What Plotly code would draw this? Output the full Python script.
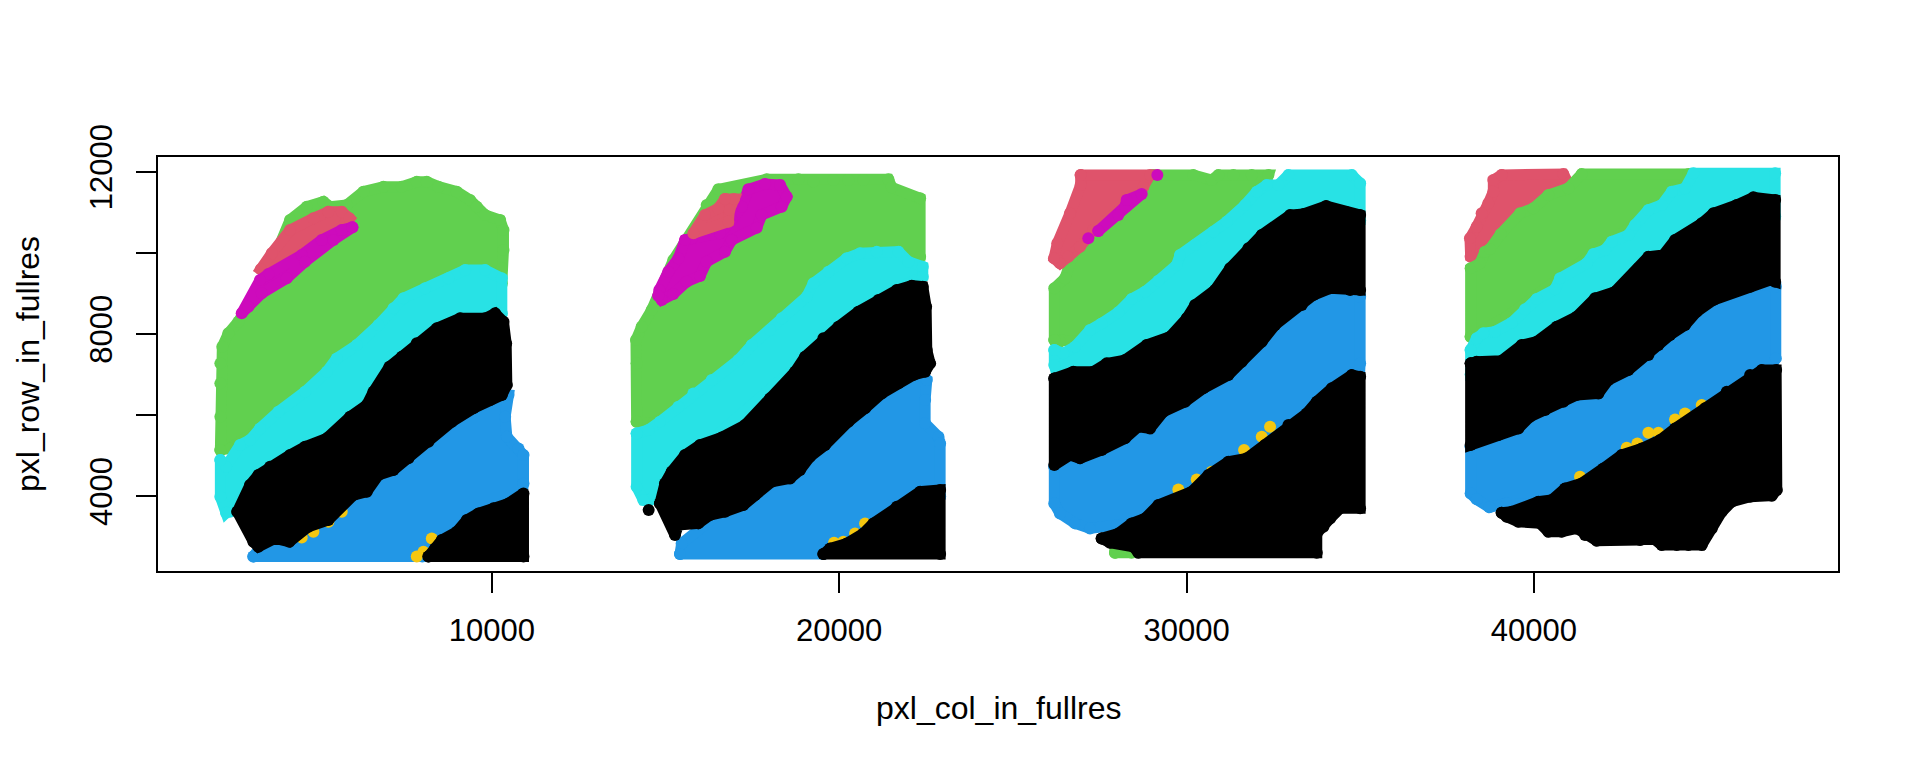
import plotly.graph_objects as go

BLACK, RED, GREEN, BLUE, CYAN, MAGENTA, YELLOW = "#000000", "#DF536B", "#61D04F", "#2297E6", "#28E2E5", "#CD0BBC", "#F5C710"

x_tick_values = [10000, 20000, 30000, 40000]
y_tick_values = [4000, 6000, 8000, 10000, 12000]
y_tick_labels = ["4000", "", "8000", "", "12000"]

# ---- section 1 (boundary spots: pxl_col_in_fullres, pxl_row_in_fullres)
s1_green_col = [2187,2187,2187,2187,2244,2417,2705,3185,3713,4193,4673,5153,5345,5825,6305,6881,7409,7841,8129,8465,8993,9377,9569,9809,10241,10337,10337,10289,10289,8033,5153,3233,2465]
s1_green_row = [5137,5959,6781,7274,7685,8014,8302,9000,9822,10809,11138,11261,11138,11179,11508,11631,11631,11754,11754,11631,11508,11302,11138,10932,10809,10562,10069,9617,9247,8425,6781,5630,5178]
s1_cyan_col = [2187,2350,2753,3041,3329,3857,4625,5249,5537,6113,6737,7169,7457,8081,8753,9233,9809,10289,10289,8993,6113,3233,2465,2350,2187]
s1_cyan_row = [4890,4726,5260,5384,5671,6082,6575,7069,7397,7726,8219,8631,8877,9124,9370,9576,9576,9370,8507,7603,5548,4315,3616,3591,3986]
s1_red_col = [5297,5681,5902,5153,3617,3348,3665,4193,4865]
s1_red_row = [11014,11014,10850,10151,9452,9592,9987,10562,10850]
s1_magenta_col = [5988,5681,5105,4529,3569,3329,2801,2993,3377,4097,4625,5441]
s1_magenta_row = [10628,10562,10316,9946,9477,9329,8507,8671,9000,9370,9781,10316]
s1_blue_col = [3137,3425,6113,9953,10481,10385,10433,10769,10913,10913,10817,8993,8000]
s1_blue_row = [2515,2835,4315,6534,6493,5959,5466,5178,5014,4315,3700,2900,2515]
s1_yellow_col = [5681,5297,4529,4865,8033,8273,7841]
s1_yellow_row = [3616,3370,2980,3123,2630,2959,2515]
s1_black_a_col = [2676,3041,3281,3617,4193,4625,5249,5921,6401,6593,7054,7409,7841,8417,9089,9809,10097,10337,10414,10433,10289,9953,9473,8849,8177,7601,7169,6737,6401,6017,5681,5297,4721,4174,3761,3281,3137]
s1_black_a_row = [3616,4274,4521,4726,5014,5219,5425,5959,6247,6575,7192,7439,7768,8137,8384,8384,8507,8302,7767,6740,6493,6370,6165,5836,5343,4932,4644,4521,4110,4027,3781,3411,3246,2877,2959,2753,2877]
s1_black_b_col = [8177,8369,8561,8993,9281,9617,10049,10481,10913,10913]
s1_black_b_row = [2515,2712,2918,3123,3411,3575,3699,3822,4068,2515]

# ---- section 2
s2_green_col = [14170,14170,14151,14314,14602,15226,16186,16522,17914,18826,19258,19834,20266,20698,21418,21514,22330,22330,20122,17242,14650]
s2_green_row = [5835,7274,7849,8178,8589,9822,11179,11565,11812,11812,11754,11795,11795,11795,11812,11614,11343,9905,9247,7192,5795]
s2_cyan_col = [14170,14506,14842,15370,15802,16330,17098,17482,18010,18346,19066,19258,19690,20218,20602,21082,21706,21994,22407,22407,21370,18202,15322,14554,14362,14170]
s2_cyan_row = [5548,5630,5836,6206,6534,6863,7356,7726,8096,8384,8918,9247,9535,9863,9987,10028,10028,9781,9658,9411,8999,6781,4644,3904,3904,4233]
s2_magenta_col = [14794,14890,15226,15610,15994,16186,16714,16906,17626,17770,18346,18490,18298,17866,17386,17194,16906,16570,15754,15562,15370,15082,14823]
s2_magenta_row = [8943,8836,8984,9288,9428,9781,10028,10316,10620,10932,11138,11384,11672,11697,11565,11138,10809,10480,10357,10316,9864,9535,9083]
s2_red_col = [16714,16973,16839,16810,15802,16138,16522]
s2_red_row = [11327,11327,11055,10768,10480,10932,11097]
s2_blue_col = [15418,15466,18202,20266,22138,22522,22474,22474,22858,22906,22906,20122,19546]
s2_blue_row = [2572,2835,4700,6100,7028,6863,6370,5795,5466,5301,4000,2800,2572]
s2_yellow_col = [19853,20122,20458,20746]
s2_yellow_row = [2852,2876,3082,3329]
s2_black_a_col = [14842,14986,15178,15562,15994,16618,17290,18010,18730,19018,19546,19978,20554,21130,21658,22090,22407,22503,22522,22618,22474,22138,21706,21226,20746,20266,19594,19162,18874,18586,18058,17578,17242,16714,16282,15946,15370,15274]
s2_black_a_row = [3822,4315,4603,5014,5260,5449,5753,6411,7069,7439,7891,8178,8548,8836,9083,9190,9165,8672,7603,7274,7069,6987,6781,6534,6165,5836,5260,4973,4644,4438,4356,4027,3781,3616,3534,3329,3288,3041]
s2_black_b_col = [19546,19738,20218,20698,20986,21658,22330,22906,22906]
s2_black_b_row = [2572,2712,2835,3082,3329,3740,4110,4151,2572]
s2_black_spot_col = [14516]
s2_black_spot_row = [3657]

# ---- section 3
s3_green_col = [26193,26193,26500,26692,27892,29044,30196,30724,30916,31348,31876,32356,32116,30292,27412,26356]
s3_green_row = [7850,9124,9370,9864,11302,11919,11919,11795,11919,11919,11919,11919,11302,10069,7800,7809]
s3_green_low_col = [27940,28420,28276,27940]
s3_green_low_row = [2605,2605,2712,2753]
s3_cyan_col = [26193,26452,26788,27220,27556,28036,28420,28804,29188,29716,29812,30244,30772,31156,31684,32020,32308,32644,32932,34756,34996,34996,33172,30292,27892,26356,26193]
s3_cyan_row = [7603,7521,7685,8096,8260,8532,8861,9042,9313,9699,9946,10192,10521,10768,11179,11507,11672,11672,11919,11919,11713,10800,10500,8400,6900,6700,7233]
s3_red_col = [26951,28948,28756,28180,27316,26932,26596,26356,26183,26279,26644,26951]
s3_red_row = [11919,11919,11631,11138,10562,10151,9905,9740,9864,10234,10973,11672]
s3_magenta_col = [27460,28036,28228,28276,28708]
s3_magenta_row = [10538,10932,11138,11302,11450]
s3_magenta_spot_col = [29159,27172]
s3_magenta_spot_row = [11919,10357]
s3_blue_col = [26193,26193,26356,26788,27220,27988,30292,34948,34996,34996,33652,30292]
s3_blue_row = [4726,3821,3575,3329,3205,3288,3700,6500,7274,8918,9500,7300]
s3_yellow_col = [30292,31655,30724,32164,29764,32404]
s3_yellow_row = [4413,5137,4603,5466,4167,5712]
s3_black_a_col = [26193,26740,27316,27700,28228,28852,29524,30004,30244,30820,31252,31780,32164,32980,33364,34017,34612,34996,34996,34708,34132,33652,33316,32980,32548,32164,31588,31204,30484,29956,29332,28948,28612,28228,27556,26932,26644,26193]
s3_black_a_row = [6904,7069,7069,7274,7356,7726,7932,8384,8713,9083,9617,10110,10439,10932,10957,11154,10998,10932,9083,9083,9124,8959,8713,8548,8219,7808,7315,6987,6658,6329,6082,5671,5712,5425,5137,4932,5014,4767]
s3_black_b_col = [27556,28036,28420,28804,29188,29764,30148,30628,31204,31732,32260,32932,33460,33748,34180,34756,34996,34996,34420,34132,33940,33748,33748,28612,28468,27796]
s3_black_b_row = [2959,3082,3329,3452,3781,3945,4110,4521,4849,4932,5260,5753,6041,6329,6658,6986,6945,3699,3699,3452,3246,3082,2605,2605,2753,2852]

# ---- section 4
s4_red_col = [39070,40846,40990,40174,39214,38638,38302,38177,38158,38350,38494,38686,38830,38830]
s4_red_row = [11919,11943,11713,11220,10562,10069,9864,9905,10357,10644,10973,11220,11507,11795]
s4_green_col = [38177,38177,38446,38590,38734,39041,39598,39982,40414,40990,41374,44446,44206,42094,39214]
s4_green_row = [7932,9617,9740,10028,10094,10463,10973,11097,11425,11590,11943,11943,11466,10234,8425]
s4_cyan_col = [38177,38350,38542,38878,39358,39742,40078,40606,40750,41518,41710,42046,42238,42718,42910,43294,43678,43966,44350,44590,46942,46942,44974,42094,39694,38177]
s4_cyan_row = [7603,7891,8014,8055,8277,8606,8861,9099,9370,9740,9970,10069,10274,10439,10686,11055,11179,11507,11590,11960,11960,10900,10300,8600,7200,7000]
s4_blue_col = [38177,38177,38350,38715,39214,39982,42094,46414,46961,46961,44974,41134]
s4_blue_row = [5219,4068,3921,3724,3822,3800,4300,6600,7397,9165,9400,7000]
s4_yellow_col = [41326,42670,42977,43294,43582,44062,44350,44830]
s4_yellow_row = [4479,5194,5301,5564,5564,5893,6041,6246]
s4_black_a_col = [38177,38350,39070,39646,40078,40654,41230,41758,42334,43006,43294,43726,44062,44830,45166,45838,46318,46942,46942,46798,46222,45742,45166,44686,44350,43918,43582,43294,42718,42142,41854,41230,40846,40318,39886,39550,38974,38398,38177]
s4_black_a_row = [7274,7315,7340,7726,7808,8178,8425,8877,9042,9617,9905,9946,10316,10727,10973,11179,11368,11302,9288,9329,9165,9042,8836,8548,8219,7973,7726,7480,7110,6863,6534,6493,6329,6123,5959,5671,5507,5384,5260]
s4_black_b_col = [39070,39358,40126,40510,40894,41374,41998,42526,43102,43630,44062,44926,45550,46222,46558,46971,46990,46846,46222,45694,45406,45118,44830,44446,44110,43678,43438,43054,41806,41470,41230,40798,40414,40174,39550,39214]
s4_black_b_row = [3592,3616,3863,3904,4192,4315,4685,5014,5178,5384,5671,6165,6575,6986,7110,7110,4151,4011,3986,3863,3616,3205,2794,2794,2794,2794,2959,2918,2901,3041,3205,3123,3123,3329,3370,3493]

SPOT = 12
fig = go.Figure()


def region(col, row, colour):
    fig.add_trace(go.Scatter(
        x=col + col[:1], y=row + row[:1], mode="lines+markers", fill="toself",
        fillcolor=colour, line=dict(color=colour, width=11),
        marker=dict(color=colour, size=SPOT, line=dict(width=0)),
        hoverinfo="skip", showlegend=False, cliponaxis=False))


def spots(col, row, colour):
    fig.add_trace(go.Scatter(
        x=col, y=row, mode="markers",
        marker=dict(color=colour, size=SPOT, line=dict(width=0)),
        hoverinfo="skip", showlegend=False, cliponaxis=False))


# section 1
region(s1_green_col, s1_green_row, GREEN)
region(s1_cyan_col, s1_cyan_row, CYAN)
region(s1_red_col, s1_red_row, RED)
region(s1_magenta_col, s1_magenta_row, MAGENTA)
region(s1_blue_col, s1_blue_row, BLUE)
spots(s1_yellow_col, s1_yellow_row, YELLOW)
region(s1_black_a_col, s1_black_a_row, BLACK)
region(s1_black_b_col, s1_black_b_row, BLACK)
# section 2
region(s2_green_col, s2_green_row, GREEN)
region(s2_cyan_col, s2_cyan_row, CYAN)
region(s2_magenta_col, s2_magenta_row, MAGENTA)
region(s2_red_col, s2_red_row, RED)
region(s2_blue_col, s2_blue_row, BLUE)
spots(s2_yellow_col, s2_yellow_row, YELLOW)
region(s2_black_a_col, s2_black_a_row, BLACK)
region(s2_black_b_col, s2_black_b_row, BLACK)
spots(s2_black_spot_col, s2_black_spot_row, BLACK)
# section 3
region(s3_green_col, s3_green_row, GREEN)
region(s3_green_low_col, s3_green_low_row, GREEN)
region(s3_cyan_col, s3_cyan_row, CYAN)
region(s3_red_col, s3_red_row, RED)
region(s3_magenta_col, s3_magenta_row, MAGENTA)
spots(s3_magenta_spot_col, s3_magenta_spot_row, MAGENTA)
region(s3_blue_col, s3_blue_row, BLUE)
spots(s3_yellow_col, s3_yellow_row, YELLOW)
region(s3_black_a_col, s3_black_a_row, BLACK)
region(s3_black_b_col, s3_black_b_row, BLACK)
# section 4
region(s4_red_col, s4_red_row, RED)
region(s4_green_col, s4_green_row, GREEN)
region(s4_cyan_col, s4_cyan_row, CYAN)
region(s4_blue_col, s4_blue_row, BLUE)
spots(s4_yellow_col, s4_yellow_row, YELLOW)
region(s4_black_a_col, s4_black_a_row, BLACK)
region(s4_black_b_col, s4_black_b_row, BLACK)

FONT = dict(family="Liberation Sans, Arial, sans-serif", size=31, color="black")
TITLE_FONT = dict(family="Liberation Sans, Arial, sans-serif", size=32, color="black")
fig.update_layout(
    width=1920, height=768, margin=dict(l=158, r=82, t=157, b=197, pad=0),
    paper_bgcolor="white", plot_bgcolor="white", font=FONT, showlegend=False,
    xaxis=dict(range=[392, 48752], tickmode="array", tickvals=x_tick_values,
               ticktext=[str(v) for v in x_tick_values], ticks="outside", ticklen=20,
               tickwidth=1.5, tickcolor="black", showgrid=False, zeroline=False,
               showline=True, linecolor="black", linewidth=1.6, mirror=True,
               ticklabelstandoff=11, tickfont=FONT),
    yaxis=dict(range=[2155, 12362], tickmode="array", tickvals=y_tick_values,
               ticktext=y_tick_labels, ticks="outside", ticklen=20, tickangle=-90,
               tickwidth=1.5, tickcolor="black", showgrid=False, zeroline=False,
               showline=True, linecolor="black", linewidth=1.6, mirror=True,
               ticklabelstandoff=12, tickfont=FONT),
    annotations=[
        dict(text="pxl_col_in_fullres", xref="paper", yref="paper", x=0.5, y=0,
             yshift=-137, xanchor="center", yanchor="middle", showarrow=False, font=TITLE_FONT),
        dict(text="pxl_row_in_fullres", xref="paper", yref="paper", x=0, y=0.5,
             xshift=-130, xanchor="center", yanchor="middle", textangle=-90, showarrow=False, font=TITLE_FONT),
    ],
)

fig.write_html("out.html", config={"displayModeBar": False},
               post_script="document.body.style.margin='0';")
